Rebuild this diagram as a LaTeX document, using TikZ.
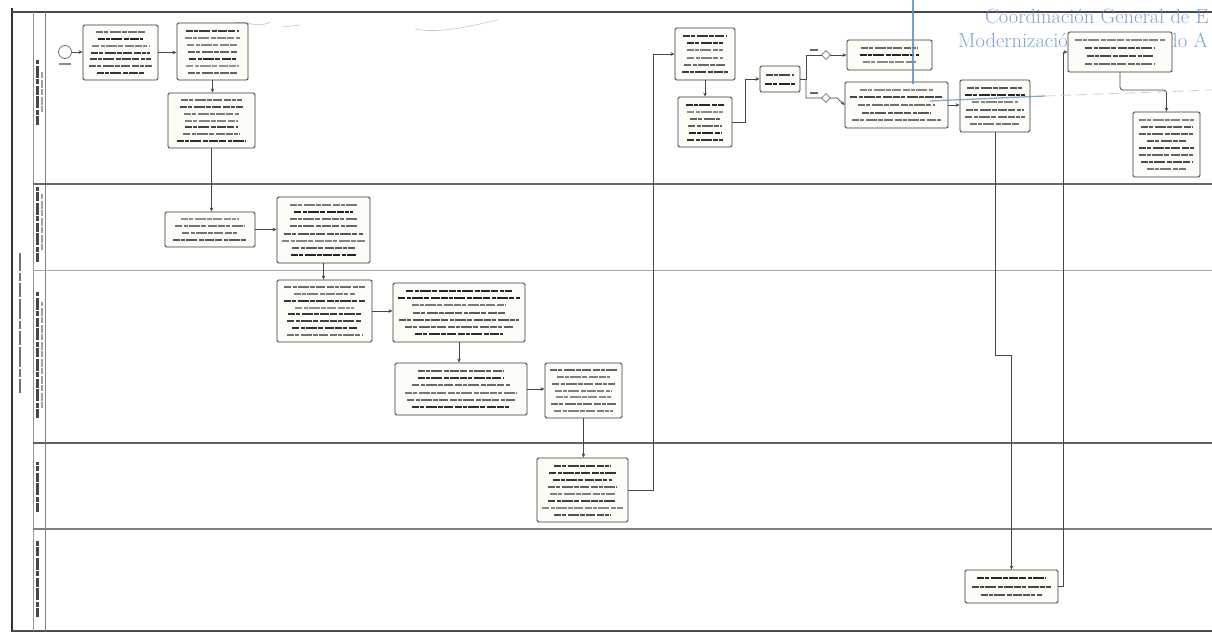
\documentclass[tikz,border=0pt]{standalone}
\usetikzlibrary{arrows.meta,shapes.geometric}
\definecolor{paper}{HTML}{FDFCF7}
\definecolor{stampblue}{HTML}{5A8ECB}

% A task box given by its corners, filled with rows of print
\newcommand\taskbox[5]{%
  \pgfmathsetmacro\tw{#4-#2}\pgfmathsetmacro\th{#5-#3}%
  \pgfmathsetmacro\tcx{(#2+#4)/2}\pgfmathsetmacro\tcy{(#3+#5)/2}%
  \node[task,minimum width=\tw pt,minimum height=\th pt] (#1) at (\tcx,\tcy) {};
  \pgfmathtruncatemacro\tn{max(1,floor((\th-8)/6.5))}%
  \foreach \i in {1,...,\tn}{%
    \pgfmathsetmacro\ly{#3+4+(\i-0.5)*(\th-8)/\tn}%
    \pgfmathsetmacro\lw{(\tw-10)*(0.68+0.32*rnd)}%
    \pgfmathtruncatemacro\lshade{42+45*rnd}%
    \draw[print,black!\lshade] (\tcx-\lw/2,\ly) -- ++(\lw,0);
  }}

\begin{document}
\begin{tikzpicture}[x=1pt,y=-1pt,
  task/.style={draw=black!78,line width=0.9pt,rounded corners=1.5pt,fill=paper,inner sep=0pt},
  print/.style={line width=2pt,dash pattern=on 7pt off 1.3pt on 4pt off 1.3pt on 11pt off 1.3pt on 5pt off 1.3pt on 9pt off 1.3pt},
  flow/.style={draw=black!72,line width=0.75pt,-{Stealth[length=4pt,width=3.6pt]}},
  cond/.style={diamond,draw=black!55,fill=white,line width=0.6pt,minimum width=9pt,minimum height=9pt,inner sep=0pt},
  lanelabel/.style={line width=2.4pt,black!72,dash pattern=on 9pt off 1.5pt on 5pt off 1.5pt on 12pt off 1.5pt},
  lanesub/.style={line width=1.5pt,black!38,dash pattern=on 6pt off 1.5pt on 8pt off 1.5pt},
  stamp/.style={stampblue,opacity=0.8,font=\fontsize{20.5}{22}\selectfont}]
\pgfmathsetseed{42}
\useasboundingbox (0,0) rectangle (1212,635);
\fill[white] (0,0) rectangle (1212,635);

% pool frame and lanes
\draw[black!80,line width=2pt] (12,8) -- (12,632);
\draw[black!72,line width=2.2pt] (12,12) -- (1212,12);
\draw[black!70,line width=1.8pt] (12,631) -- (1212,631);
\draw[black!40,line width=0.6pt] (33,12) -- (33,631);
\draw[black!50,line width=0.8pt] (45,12) -- (45,631);
\draw[black!60,line width=1.2pt] (33,184) -- (1212,184);
\draw[black!35,line width=0.9pt] (33,270) -- (1212,270);
\draw[black!62,line width=1.3pt] (33,443) -- (1212,443);
\draw[black!50,line width=1.1pt] (33,529) -- (1212,529);

% pool and lane headings
\draw[line width=2pt,black!55,dash pattern=on 14pt off 2pt on 8pt off 2pt on 20pt off 2pt] (20,393) -- (20,253);
\draw[lanelabel] (37.5,125) -- (37.5,60);
\draw[lanesub] (42,112) -- (42,72);
\draw[lanelabel] (37.5,262) -- (37.5,187);
\draw[lanesub] (42,250) -- (42,194);
\draw[lanelabel] (37.5,418) -- (37.5,292);
\draw[lanesub] (42,408) -- (42,302);
\draw[lanelabel] (37.5,512) -- (37.5,462);
\draw[lanelabel] (37.5,617) -- (37.5,540);

% stamp text
\node[stamp,anchor=base west,inner sep=0pt] (stamp1) at (985,23) {Coordinación General de E};
\node[stamp,anchor=base west,inner sep=0pt] (stamp2) at (958,47) {Modernización del\hspace{16pt} Estado A};

% pencil marks along the top
\draw[black!25,line width=0.6pt] (232,24) .. controls (245,18) and (255,30) .. (270,22);
\draw[black!22,line width=0.6pt] (282,27) -- (300,25);
\draw[black!22,line width=0.6pt] (415,29) .. controls (440,34) and (470,26) .. (498,20);

% start event
\node[circle,draw=black!55,line width=0.8pt,minimum size=13pt,inner sep=0pt,fill=paper] (st) at (65,52) {};
\draw[black!45,line width=1.5pt] (59,64) -- (71,64);

% tasks
\taskbox{A}{83}{25}{158}{80}
\taskbox{B}{177}{23}{248}{80}
\taskbox{C}{168}{93}{255}{148}
\taskbox{D}{165}{212}{255}{247}
\taskbox{E}{277}{197}{370}{263}
\taskbox{F}{277}{280}{372}{342}
\taskbox{G}{393}{283}{525}{342}
\taskbox{H}{395}{363}{527}{415}
\taskbox{I}{545}{363}{622}{418}
\taskbox{J}{537}{458}{628}{522}
\taskbox{K}{675}{28}{735}{80}
\taskbox{L}{678}{97}{732}{147}
\taskbox{M}{760}{66}{800}{92}
\taskbox{N}{847}{40}{932}{70}
\taskbox{O}{845}{82}{948}{128}
\taskbox{P}{960}{80}{1030}{132}
\taskbox{Q}{1068}{32}{1172}{72}
\taskbox{R}{1133}{112}{1200}{177}
\taskbox{S}{965}{570}{1058}{603}

% routing points
\coordinate (busJK) at (653,0);
\coordinate (busLM) at (745,0);
\coordinate (gw) at (806,79);
\coordinate (lowbend) at (837,98);
\coordinate (pj1) at (995,355);
\coordinate (busSQ) at (1063,0);
\coordinate (qr) at (1120,90);

% sequence flows
\draw[flow] (st) -- (A.west |- st);
\draw[flow] (A.east) -- (A.east -| B.west);
\draw[flow] (B.south) -- (B.south |- C.north);
\draw[flow] (C.south) -- (C.south |- D.north);
\draw[flow] (D.east) -- (D.east -| E.west);
\draw[flow] (E.south) -- (E.south |- F.north);
\draw[flow] (F.east) -- (F.east -| G.west);
\draw[flow] (G.south) -- (G.south |- H.north);
\draw[flow] (H.east) -- (H.east -| I.west);
\draw[flow] (I.south) -- (I.south |- J.north);
\draw[flow] (J.east) -- (J.east -| busJK) -- (busJK |- K.west) -- (K.west);
\draw[flow] (K.south) -- (K.south |- L.north);
\draw[flow] (L.east) -- (L.east -| busLM) -- (busLM |- M.west) -- (M.west);
\draw[flow] (M.east) -- (gw) -- (gw |- N.west) -- (N.west);
\draw[flow] (gw) -- (gw |- lowbend) -- (lowbend) -- (O.west);
\draw[flow] (O.east) -- (O.east -| P.west);
\draw[flow] (P.south) -- (pj1) -- (S.north |- pj1) -- (S.north);
\draw[flow] (S.east) -- (S.east -| busSQ) -- (busSQ |- Q.west) -- (Q.west);
\draw[flow,rounded corners=3pt] (Q.south) -- (Q.south |- qr) -- (qr -| R.north) -- (R.north);

% conditions on the two outgoing branches
\node[cond] (condN) at (826,55) {};
\node[cond] (condO) at (826,98) {};
\draw[black!60,line width=1.6pt] (810,50) -- (818,50);
\draw[black!60,line width=1.6pt] (810,93) -- (818,93);

% stamp rules
\draw[stampblue,opacity=0.85,line width=1.3pt] (913,0) -- (913,84);
\draw[stampblue,opacity=0.75,line width=1.3pt] (930,101) -- (1045,96);
\draw[stampblue!60,opacity=0.6,line width=0.9pt,dash pattern=on 10pt off 6pt] (1045,96) -- (1212,90);
\end{tikzpicture}
\end{document}
